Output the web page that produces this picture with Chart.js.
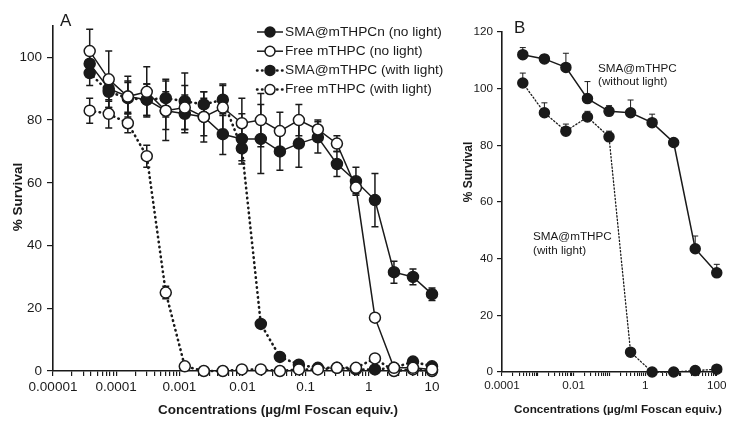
<!DOCTYPE html>
<html><head><meta charset="utf-8">
<script src="https://cdn.jsdelivr.net/npm/chart.js@4"></script>
<style>
html,body{margin:0;padding:0;background:#fff;}
#wrap{position:relative;width:740px;height:426px;overflow:hidden;background:#fff;}
#ca{position:absolute;left:0;top:0;}
#cb{position:absolute;left:450px;top:0;}
</style></head><body>
<div id="wrap"><canvas id="ca" width="450" height="426"></canvas><canvas id="cb" width="290" height="426"></canvas></div>
<script>
// ---------- Panel A data ----------
const concA = [0.0000381, 0.0000763, 0.000153, 0.000305, 0.00061, 0.00122, 0.00244, 0.00488, 0.00977, 0.0195, 0.0391, 0.0781, 0.156, 0.3125, 0.625, 1.25, 2.5, 5, 10];
const smaNoLight    = [98, 90, 87.5, 86.5, 83, 82, 81, 75.5, 74, 74, 70, 72.5, 74.5, 66, 60.5, 54.5, 31.5, 30, 24.5];
const smaNoLightErr = [4, 4, 5, 5, 6, 6, 6, 6.5, 8, 11, 6, 7.5, 5, 4, 4.5, 8.5, 3.5, 2.5, 2];
const freeNoLight    = [102, 93, 87.5, 89, 83, 84, 81, 84, 79, 80, 76.5, 80, 77, 72.5, 58.5, 17, 1, 1, 0.5];
const freeNoLightErr = [7, 9, 6.5, 8, 9.5, 7, 8, 7, 8, 8.5, 6, 5, 3, 2.5, 2, 1, 0.5, 0.5, 0.5];
const smaLight    = [95, 89, 87, 86.5, 87, 86, 85, 86.5, 71, 15, 4.5, 2, 1, 1, 0.5, 0.5, 1, 3, 1.5];
const smaLightErr = [4, 5, 5, 5, 6, 9, 4, 5, 4, 1, 1, 0.5, 0.5, 0.5, 0.5, 0.5, 0.5, 1, 0.5];
const freeLight    = [83, 82, 79, 68.5, 25, 1.5, 0, 0, 0.5, 0.5, 0, 0.5, 0.5, 1, 1, 4, 0, 0.5, 0];
const freeLightErr = [4, 4.5, 3, 3.5, 2, 1, 0.5, 0.5, 0.5, 0.5, 0.5, 0.5, 0.5, 0.5, 0.5, 0.5, 0.5, 0.5, 0.5];
const legendLabelsA = ['SMA@mTHPCn (no light)', 'Free mTHPC (no light)', 'SMA@mTHPC (with light)', 'Free mTHPC (with light)'];
const tickValsA = [0.00001, 0.0001, 0.001, 0.01, 0.1, 1, 10];
const tickLabelsA = ['0.00001', '0.0001', '0.001', '0.01', '0.1', '1', '10'];

// ---------- Panel B data ----------
const concB = [0.000381, 0.00153, 0.0061, 0.0244, 0.0977, 0.391, 1.5625, 6.25, 25, 100];
const withoutLight    = [112, 110.5, 107.5, 96.5, 92, 91.5, 88, 81, 43.5, 35];
const withoutLightErr = [2.5, 1.5, 5, 6, 2, 4.5, 3, 0.5, 4.5, 3];
const withLight    = [102, 91.5, 85, 90, 83, 7, 0, 0, 0.5, 1];
const withLightErr = [3.5, 3.5, 2.5, 2, 2, 0, 0, 0, 0, 0];
const tickValsB = [0.0001, 0.01, 1, 100];
const tickLabelsB = ['0.0001', '0.01', '1', '100'];

const FONT = '"Liberation Sans", Arial, Helvetica, sans-serif';
const INK = '#1a1a1a';
Chart.defaults.font.family = FONT;
Chart.defaults.color = INK;

const pts = (xs, ys) => xs.map((x, i) => ({ x: x, y: ys[i] }));

const errorBars = {
  id: 'errorBars',
  beforeDatasetsDraw(chart, args, opts) {
    const ctx = chart.ctx, ys = chart.scales.y;
    chart.data.datasets.forEach((ds, i) => {
      if (!ds.errors) return;
      const meta = chart.getDatasetMeta(i);
      ctx.save();
      ctx.strokeStyle = INK; ctx.lineWidth = opts.width;
      meta.data.forEach((pt, j) => {
        const e = ds.errors[j]; if (!e) return;
        const v = ds.data[j].y;
        const yt = ys.getPixelForValue(v + e);
        const yb = opts.upOnly ? pt.y : ys.getPixelForValue(Math.max(v - e, 0));
        ctx.beginPath();
        ctx.moveTo(pt.x, yt); ctx.lineTo(pt.x, yb);
        ctx.moveTo(pt.x - opts.cap, yt); ctx.lineTo(pt.x + opts.cap, yt);
        if (!opts.upOnly) { ctx.moveTo(pt.x - opts.cap, yb); ctx.lineTo(pt.x + opts.cap, yb); }
        ctx.stroke();
      });
      ctx.restore();
    });
  }
};

const decor = {
  id: 'decor',
  afterDraw(chart, args, o) {
    const ctx = chart.ctx;
    ctx.save();
    ctx.fillStyle = INK;
    (o.texts || []).forEach(t => {
      ctx.save();
      ctx.font = t.font;
      ctx.textAlign = t.align || 'left';
      ctx.textBaseline = 'middle';
      ctx.translate(t.x, t.y);
      if (t.rot) ctx.rotate(t.rot);
      ctx.fillText(t.text, 0, 0);
      ctx.restore();
    });
    if (o.legend) {
      const L = o.legend;
      L.items.forEach((it, i) => {
        const y = L.y0 + i * L.dy;
        ctx.save();
        ctx.strokeStyle = INK;
        if (it.dotted) { ctx.lineWidth = 2.5; ctx.lineCap = 'round'; ctx.setLineDash([0.5, 4.5]); }
        else { ctx.lineWidth = 1.5; }
        ctx.beginPath(); ctx.moveTo(L.x0, y); ctx.lineTo(L.x1, y); ctx.stroke();
        ctx.setLineDash([]);
        ctx.beginPath(); ctx.arc((L.x0 + L.x1) / 2, y, L.r, 0, Math.PI * 2);
        ctx.fillStyle = it.filled ? INK : '#fff'; ctx.fill();
        ctx.lineWidth = 1.5; ctx.strokeStyle = INK; ctx.stroke();
        ctx.fillStyle = INK; ctx.font = L.font; ctx.textBaseline = 'middle'; ctx.textAlign = 'left';
        ctx.fillText(it.label, L.tx, y);
        ctx.restore();
      });
    }
    ctx.restore();
  }
};

function logTickFilter(maxV) {
  return s => {
    s.ticks = s.ticks.filter(t => {
      const v = t.value;
      const p = Math.pow(10, Math.floor(Math.log10(v) + 1e-9));
      const m = v / p;
      return Math.abs(m - Math.round(m)) < 1e-6 && v <= maxV * 1.0001;
    });
  };
}
function logLabel(vals, labels) {
  return v => {
    for (let i = 0; i < vals.length; i++) {
      if (Math.abs(v / vals[i] - 1) < 1e-6) return labels[i];
    }
    return '';
  };
}

function lineDs(label, xs, ys, errs, filled, dotted, r, bw) {
  return {
    label: label,
    data: pts(xs, ys),
    errors: errs,
    borderColor: INK,
    borderWidth: dotted ? bw.dot : bw.solid,
    borderDash: dotted ? bw.dash : [],
    borderCapStyle: dotted ? 'round' : 'butt',
    pointRadius: r,
    pointHoverRadius: r,
    pointBorderWidth: 1.5,
    pointBorderColor: INK,
    pointBackgroundColor: filled ? INK : '#fff',
    tension: 0,
    fill: false,
    clip: false
  };
}

const bwA = { solid: 1.5, dot: 2.6, dash: [0.5, 4.5] };
new Chart(document.getElementById('ca'), {
  type: 'line',
  data: {
    datasets: [
      lineDs(legendLabelsA[1], concA, freeNoLight, freeNoLightErr, false, false, 5.5, bwA),
      lineDs(legendLabelsA[0], concA, smaNoLight, smaNoLightErr, true, false, 5.5, bwA),
      lineDs(legendLabelsA[3], concA, freeLight, freeLightErr, false, true, 5.5, bwA),
      lineDs(legendLabelsA[2], concA, smaLight, smaLightErr, true, true, 5.5, bwA)
    ]
  },
  options: {
    responsive: false, animation: false, devicePixelRatio: 1,
    layout: { padding: { top: 26, right: 13, bottom: 0, left: 0 } },
    plugins: {
      legend: { display: false }, tooltip: { enabled: false },
      errorBars: { width: 1.5, cap: 3.5, upOnly: false },
      decor: {
        texts: [
          { text: 'A', x: 60, y: 21, font: '17px ' + FONT },
          { text: '% Survival', x: 18, y: 197, rot: -Math.PI / 2, align: 'center', font: 'bold 13.5px ' + FONT },
          { text: 'Concentrations (µg/ml Foscan equiv.)', x: 278, y: 410, align: 'center', font: 'bold 13.5px ' + FONT }
        ],
        legend: {
          x0: 257, x1: 283, r: 5, tx: 285, y0: 32, dy: 19.2, font: '13.7px ' + FONT,
          items: [
            { label: legendLabelsA[0], filled: true, dotted: false },
            { label: legendLabelsA[1], filled: false, dotted: false },
            { label: legendLabelsA[2], filled: true, dotted: true },
            { label: legendLabelsA[3], filled: false, dotted: true }
          ]
        }
      }
    },
    scales: {
      x: {
        type: 'logarithmic', min: 0.00001, max: 12,
        afterBuildTicks: logTickFilter(10),
        afterFit: s => { s.height = 55; },
        grid: { display: true, drawOnChartArea: false, drawTicks: true, tickLength: 5, color: INK, lineWidth: 1.2 },
        border: { display: true, color: INK, width: 1.6 },
        ticks: { autoSkip: false, maxRotation: 0, minRotation: 0, padding: 3, font: { size: 13.5 }, color: INK, callback: logLabel(tickValsA, tickLabelsA) }
      },
      y: {
        type: 'linear', min: 0, max: 110,
        afterBuildTicks: s => { s.ticks = s.ticks.filter(t => t.value <= 100); },
        afterFit: s => { s.width = 53; },
        grid: { display: true, drawOnChartArea: false, drawTicks: true, tickLength: 6, color: INK, lineWidth: 1.2 },
        border: { display: true, color: INK, width: 1.6 },
        ticks: { stepSize: 20, padding: 5, font: { size: 13.5 }, color: INK }
      }
    }
  },
  plugins: [errorBars, decor]
});

const bwB = { solid: 1.5, dot: 1.3, dash: [1.3, 2.2] };
new Chart(document.getElementById('cb'), {
  type: 'line',
  data: {
    datasets: [
      lineDs('SMA@mTHPC (without light)', concB, withoutLight, withoutLightErr, true, false, 5, bwB),
      lineDs('SMA@mTHPC (with light)', concB, withLight, withLightErr, true, true, 5, bwB)
    ]
  },
  options: {
    responsive: false, animation: false, devicePixelRatio: 1,
    layout: { padding: { top: 32, right: 18, bottom: 0, left: 0 } },
    plugins: {
      legend: { display: false }, tooltip: { enabled: false },
      errorBars: { width: 1, cap: 3, upOnly: true },
      decor: {
        texts: [
          { text: 'B', x: 64, y: 28, font: '17px ' + FONT },
          { text: '% Survival', x: 19, y: 172, rot: -Math.PI / 2, align: 'center', font: 'bold 12px ' + FONT },
          { text: 'Concentrations (µg/ml Foscan equiv.)', x: 168, y: 410, align: 'center', font: 'bold 11.7px ' + FONT },
          { text: 'SMA@mTHPC', x: 148, y: 69, font: '11.7px ' + FONT },
          { text: '(without light)', x: 148, y: 82, font: '11.7px ' + FONT },
          { text: 'SMA@mTHPC', x: 83, y: 237, font: '11.7px ' + FONT },
          { text: '(with light)', x: 83, y: 251, font: '11.7px ' + FONT }
        ]
      }
    },
    scales: {
      x: {
        type: 'logarithmic', min: 0.0001, max: 140,
        afterBuildTicks: logTickFilter(100),
        afterFit: s => { s.height = 54; },
        grid: { display: true, drawOnChartArea: false, drawTicks: true, tickLength: 4, color: INK, lineWidth: 1.1 },
        border: { display: true, color: INK, width: 1.6 },
        ticks: { autoSkip: false, maxRotation: 0, minRotation: 0, padding: 3, font: { size: 11.7 }, color: INK, callback: logLabel(tickValsB, tickLabelsB) }
      },
      y: {
        type: 'linear', min: 0, max: 120,
        afterFit: s => { s.width = 52; },
        grid: { display: true, drawOnChartArea: false, drawTicks: true, tickLength: 5, color: INK, lineWidth: 1.2 },
        border: { display: true, color: INK, width: 1.6 },
        ticks: { stepSize: 20, padding: 4, font: { size: 11.7 }, color: INK }
      }
    }
  },
  plugins: [errorBars, decor]
});
</script>
</body></html>
